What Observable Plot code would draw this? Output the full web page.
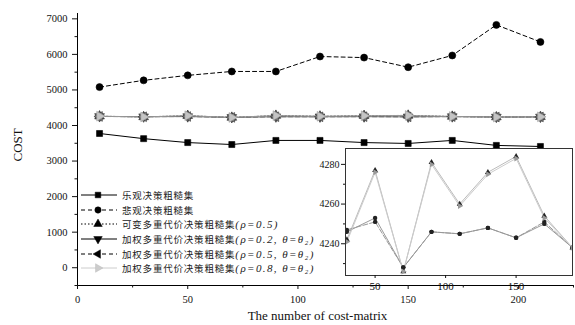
<!DOCTYPE html>
<html><head><meta charset="utf-8">
<script src="https://cdn.jsdelivr.net/npm/d3@7"></script>
<script src="https://cdn.jsdelivr.net/npm/@observablehq/plot@0.6"></script>
<style>
body{margin:0;background:#fff;}
#wrap{position:relative;width:575px;height:325px;overflow:hidden;}
#main,#inset,#legend{position:absolute;}
#main{left:0;top:0;}
#inset{left:305px;top:143px;}
#legend{left:80px;top:188px;}
.row{height:14.6px;display:flex;align-items:center;white-space:nowrap;font-family:"Noto Sans CJK SC",sans-serif;font-size:9.5px;letter-spacing:0.8px;color:#222;}
.row svg{margin-right:4px;}
.lat{font-family:"Liberation Serif",serif;font-style:italic;font-size:11px;letter-spacing:1.4px;}
</style></head>
<body><div id="wrap"><div id="main"></div><div id="legend"></div><div id="inset"></div></div>
<script>
// ---- data ----
const xs = [10, 30, 50, 70, 90, 110, 130, 150, 170, 190, 210];
const optimistic  = [3775, 3630, 3520, 3465, 3580, 3580, 3520, 3495, 3580, 3440, 3410];
const pessimistic = [5080, 5270, 5410, 5520, 5520, 5940, 5910, 5640, 5970, 6830, 6350];
const variable05  = [4262, 4242, 4277, 4226, 4281, 4260, 4276, 4284, 4254, 4238, 4246];
const weighted02  = [4255, 4247, 4251, 4228, 4246, 4245, 4248, 4243, 4251, 4238, 4240];
const weighted05  = [4254, 4246, 4253, 4228, 4246, 4245, 4248, 4243, 4250, 4238, 4240];
const weighted08  = [4261, 4241, 4276, 4226, 4280, 4259, 4275, 4283, 4253, 4238, 4245];
const seriesNames = ["乐观决策粗糙集", "悲观决策粗糙集", "可变多重代价决策粗糙集", "加权多重代价决策粗糙集(0.2)", "加权多重代价决策粗糙集(0.5)", "加权多重代价决策粗糙集(0.8)"];
const legendMain = ["乐观决策粗糙集", "悲观决策粗糙集", "可变多重代价决策粗糙集", "加权多重代价决策粗糙集", "加权多重代价决策粗糙集", "加权多重代价决策粗糙集"];
const legendParam = ["", "", "(ρ=0.5)", "(ρ=0.2, θ=θ₂)", "(ρ=0.5, θ=θ₂)", "(ρ=0.8, θ=θ₂)"];
const xTicks = [0, 50, 100, 150, 200];
const xMinor = [25, 75, 125, 175, 225];
const yTicks = [0, 1000, 2000, 3000, 4000, 5000, 6000, 7000];
const yMinor = [-500, 500, 1500, 2500, 3500, 4500, 5500, 6500];
const insetXTicks = [50, 100, 150];
const insetYTicks = [4240, 4260, 4280];
const insetYMinor = [4230, 4250, 4270];

const allValues = [optimistic, pessimistic, variable05, weighted02, weighted05, weighted08];
const table = [];
allValues.forEach((vals, s) => vals.forEach((v, i) => table.push({series: seriesNames[s], x: xs[i], y: v})));

// ---- symbols ----
function tri(angle) {
  return {draw(ctx, size) {
    const y = -Math.sqrt(size / (Math.sqrt(3) * 3));
    const pts = [[0, y * 2], [-Math.sqrt(3) * y, -y], [Math.sqrt(3) * y, -y]];
    const c = Math.cos(angle), s = Math.sin(angle);
    pts.forEach(([px, py], k) => {
      const qx = px * c - py * s, qy = px * s + py * c;
      k ? ctx.lineTo(qx, qy) : ctx.moveTo(qx, qy);
    });
    ctx.closePath();
  }};
}
const styles = [
  {symbol: d3.symbolSquare, stroke: "#000", fill: "#000", dash: null, mstroke: "#000"},
  {symbol: d3.symbolCircle, stroke: "#000", fill: "#000", dash: "4,3", mstroke: "#000"},
  {symbol: tri(0), stroke: "#555", fill: "#555", dash: "1.5,2", mstroke: "#222"},
  {symbol: tri(Math.PI), stroke: "#666", fill: "#666", dash: null, mstroke: "#222"},
  {symbol: tri(-Math.PI / 2), stroke: "#666", fill: "#777", dash: "4,3", mstroke: "#333"},
  {symbol: tri(Math.PI / 2), stroke: "#999", fill: "#c4c4c4", dash: null, mstroke: "#999"}
];
const rMain = [3.4, 3.5, 3.6, 3.6, 3.6, 3.6];
const fmt = d3.format("d");

// ---- main chart ----
const marks = [
  Plot.ruleX([0], {stroke: "#000"}),
  Plot.ruleY([-500], {stroke: "#000"}),
  Plot.axisY(yTicks, {tickSize: 5, tickPadding: 5, fontSize: 10.5, tickFormat: fmt, label: null}),
  Plot.axisY(yMinor, {tickSize: 2.5, tickFormat: () => "", label: null}),
  Plot.axisX(xTicks, {tickSize: 4, tickPadding: 6, fontSize: 10.5, tickFormat: fmt, label: null}),
  Plot.axisX(xMinor, {tickSize: 2.5, tickFormat: () => "", label: null}),
  Plot.text(["The number of cost-matrix"], {frameAnchor: "bottom", dx: -8, dy: 34, fontSize: 13, fontFamily: "Liberation Serif"}),
  Plot.text(["COST"], {frameAnchor: "left", dx: -60, dy: 12, rotate: -90, fontSize: 13, fontFamily: "Liberation Serif"})
];
seriesNames.forEach((name, s) => {
  const st = styles[s];
  marks.push(Plot.line(table, {filter: d => d.series === name, x: "x", y: "y", stroke: st.stroke, strokeWidth: 1, strokeDasharray: st.dash}));
});
seriesNames.forEach((name, s) => {
  const st = styles[s];
  marks.push(Plot.dot(table, {filter: d => d.series === name, x: "x", y: "y", symbol: st.symbol, r: rMain[s], fill: st.fill, stroke: st.mstroke, strokeWidth: 0.6}));
});
const main = Plot.plot({
  width: 575, height: 325, marginLeft: 77, marginRight: 2, marginTop: 13, marginBottom: 40,
  style: {fontFamily: "Liberation Serif", background: "transparent", color: "#111"},
  x: {domain: [0, 225]},
  y: {domain: [-500, 7150]},
  marks
});
document.getElementById("main").append(main);

// ---- legend ----
const leg = d3.select("#legend");
seriesNames.forEach((name, s) => {
  const st = styles[s];
  const row = leg.append("div").attr("class", "row");
  const svg = row.append("svg").attr("width", 38).attr("height", 14);
  svg.append("line").attr("x1", 1).attr("x2", 37).attr("y1", 7).attr("y2", 7)
    .attr("stroke", s === 5 ? "#ccc" : "#000").attr("stroke-width", 1)
    .attr("stroke-dasharray", st.dash);
  svg.append("path").attr("transform", "translate(18,7)")
    .attr("d", d3.symbol(st.symbol, Math.PI * 10)())
    .attr("fill", s === 5 ? "#ccc" : "#000").attr("stroke", s === 5 ? "#bbb" : "#000").attr("stroke-width", 0.5);
  row.append("span").text(legendMain[s]);
  if (legendParam[s]) row.append("span").attr("class", "lat").text(legendParam[s]);
});

// ---- inset ----
const insetStroke = ["#000", "#000", "#bbb", "#999", "#999", "#ccc"];
const insetMarks = [Plot.frame({fill: "#fff", stroke: null})];
seriesNames.slice(2).forEach((name, k) => {
  const s = k + 2;
  insetMarks.push(Plot.line(table, {filter: d => d.series === name, x: "x", y: "y", stroke: insetStroke[s], strokeWidth: 1, strokeDasharray: s === 3 ? "5,2" : null, clip: true}));
});
seriesNames.slice(2).forEach((name, k) => {
  const s = k + 2;
  insetMarks.push(Plot.dot(table, {filter: d => d.series === name, x: "x", y: "y", symbol: s === 3 || s === 4 ? "circle" : styles[s].symbol, r: 2.2, fill: s === 5 ? "#999" : "#222", stroke: "none", clip: true}));
});
insetMarks.push(
  Plot.frame({stroke: "#333", strokeWidth: 1}),
  Plot.axisY(insetYTicks, {tickSize: 4, tickPadding: 2, fontSize: 10, tickFormat: fmt, label: null}),
  Plot.axisY(insetYMinor, {tickSize: 2, tickFormat: () => "", label: null}),
  Plot.axisX(insetXTicks, {tickSize: 3, tickPadding: 4, fontSize: 11, tickFormat: fmt, label: null})
);
const inset = Plot.plot({
  width: 270, height: 152, marginLeft: 40, marginRight: 3, marginTop: 5, marginBottom: 20,
  style: {fontFamily: "Liberation Serif", background: "transparent", color: "#111"},
  x: {domain: [29, 190]},
  y: {domain: [4224, 4288]},
  marks: insetMarks
});
document.getElementById("inset").append(inset);
</script></body></html>
